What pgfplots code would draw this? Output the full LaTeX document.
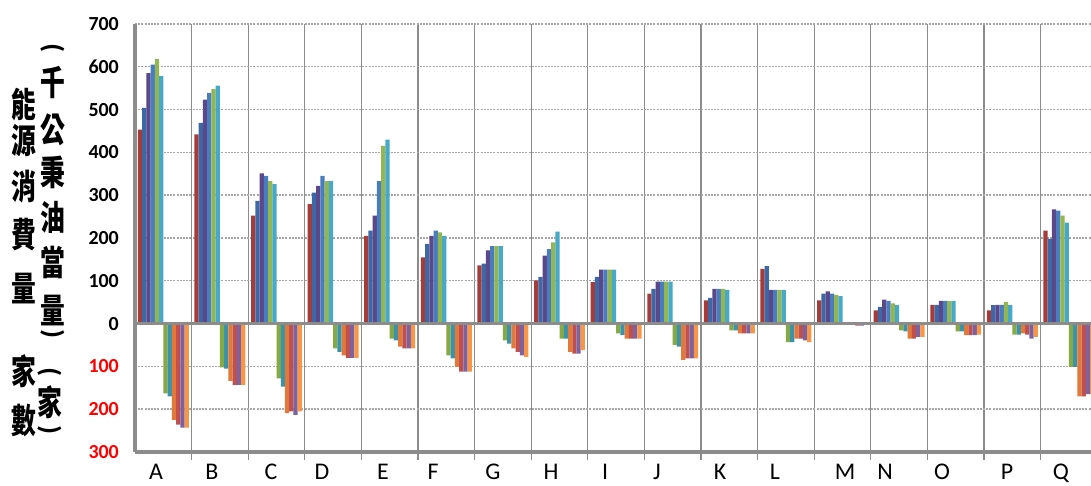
\documentclass[border=0pt]{standalone}
\usepackage{pgfplots}
\pgfplotsset{compat=1.18}
\usepackage{pgfplotstable}
\usepackage{graphicx}
\usepackage{fontspec}
\setmainfont{Carlito}
\newfontfamily\cjk{Noto Sans CJK TC}

% positive bars: energy consumption; negative bars: number of firms
\definecolor{p1}{HTML}{A63C3A}
\definecolor{p2}{HTML}{3D68A6}
\definecolor{p3}{HTML}{5B4889}
\definecolor{p4}{HTML}{4A7DC0}
\definecolor{p5}{HTML}{93B653}
\definecolor{p6}{HTML}{47A9C5}
\definecolor{n1}{HTML}{86A845}
\definecolor{n2}{HTML}{3A93A9}
\definecolor{n3}{HTML}{E0793A}
\definecolor{n4}{HTML}{C0504D}
\definecolor{n5}{HTML}{7E62A0}
\definecolor{n6}{HTML}{F79646}
\definecolor{lgray}{HTML}{8C8C8C}

\pgfplotstableread{
x   p1  p2  p3  p4  p5  p6    n1    n2    n3    n4    n5    n6
0   453 504 585 605 618 578  -163  -170  -225  -236  -243  -243
1   442 469 523 539 548 556  -102  -105  -134  -143  -143  -143
2   252 287 351 345 333 326  -128  -147  -209  -205  -213  -205
3   279 306 322 345 333 333   -58   -66   -74   -80   -80   -80
4   205 217 252 333 415 430   -35   -39   -54   -58   -58   -58
5   155 186 205 217 213 205   -74   -81  -101  -112  -112  -112
6   136 140 171 181 181 181   -39   -47   -58   -66   -74   -78
7   101 109 159 174 190 215   -35   -35   -66   -70   -70   -62
8    97 109 126 126 126 126   -23   -27   -35   -35   -35   -35
9    70  81  98  98  98  98   -50   -54   -85   -81   -81   -81
10   54  60  81  81  81  79   -16   -16   -23   -23   -23   -23
11  128 134  79  79  79  79   -43   -43   -35   -35   -39   -43
12   54  70  75  70  67  64     0     0    -3    -5    -5    -3
13   31  39  56  53  47  44   -16   -18   -35   -35   -31   -31
14   44  44  53  53  53  53   -18   -18   -27   -27   -27   -26
15   31  43  44  44  50  43   -26   -26   -23   -26   -35   -31
16  217 198 267 264 252 236  -101  -101  -170  -170  -165  -165
}\data

% heavy vertical title glyph, stretched upright
\newcommand\vg[1]{\scalebox{1.08}[1.5]{\bfseries #1}}

\begin{document}
\begin{tikzpicture}
\begin{axis}[
  at={(0,0)}, anchor=south west,
  scale only axis, width=956bp, height=428bp,
  xmin=-0.5, xmax=16.39, ymin=-300, ymax=700,
  ybar, bar width=0.075,
  axis x line*=bottom, axis y line*=left,
  axis line style={-, draw=lgray, line width=3.5bp},
  tick pos=left, tick align=outside,
  major tick length=0bp, minor tick length=8bp,
  minor tick style={draw=lgray, line width=1.2bp},
  ytick={-300,-200,...,700},
  yticklabels={\textcolor{red}{300},\textcolor{red}{200},\textcolor{red}{100},0,100,200,300,400,500,600,700},
  yticklabel style={font=\fontsize{20}{20}\selectfont\bfseries, anchor=east, inner sep=0pt, xshift=-16bp},
  xtick={-0.129,0.860,1.903,2.804,3.882,4.765,5.825,6.850,7.804,8.723,9.836,10.807,12.044,12.751,13.758,14.906,15.860},
  xticklabels={A,B,C,D,E,F,G,H,I,J,K,L,M,N,O,P,Q},
  xticklabel style={font=\fontsize{24}{24}\selectfont, anchor=base, inner sep=0pt, yshift=-28bp},
  minor xtick={0.5,1.5,...,15.5},
  xminorgrids, ymajorgrids,
  minor grid style={solid, draw=lgray, line width=1.2bp},
  major grid style={dash pattern=on 2bp off 1.2bp, draw=gray!70, line width=1.4bp},
]
\addplot [fill=p1, draw=none, bar shift=-0.4125] table [x=x, y=p1] {\data};
\addplot [fill=p2, draw=none, bar shift=-0.3375] table [x=x, y=p2] {\data};
\addplot [fill=p3, draw=none, bar shift=-0.2625] table [x=x, y=p3] {\data};
\addplot [fill=p4, draw=none, bar shift=-0.1875] table [x=x, y=p4] {\data};
\addplot [fill=p5, draw=none, bar shift=-0.1125] table [x=x, y=p5] {\data};
\addplot [fill=p6, draw=none, bar shift=-0.0375] table [x=x, y=p6] {\data};
\addplot [fill=n1, draw=none, bar shift=0.0375] table [x=x, y=n1] {\data};
\addplot [fill=n2, draw=none, bar shift=0.1125] table [x=x, y=n2] {\data};
\addplot [fill=n3, draw=none, bar shift=0.1875] table [x=x, y=n3] {\data};
\addplot [fill=n4, draw=none, bar shift=0.2625] table [x=x, y=n4] {\data};
\addplot [fill=n5, draw=none, bar shift=0.3375] table [x=x, y=n5] {\data};
\addplot [fill=n6, draw=none, bar shift=0.4125] table [x=x, y=n6] {\data};
% zero line
\draw [lgray, line width=3bp] (axis cs:-0.5,0) -- (axis cs:16.39,0);
\end{axis}

% vertical axis titles
\begin{scope}[every node/.style={inner sep=0pt, font=\fontsize{23}{23}\selectfont\cjk}]
\node at (-111bp,347bp) {\vg{能}};
\node at (-111bp,311bp) {\vg{源}};
\node at (-111bp,265bp) {\vg{消}};
\node at (-111bp,217bp) {\vg{費}};
\node at (-111bp,163bp) {\vg{量}};
\node[rotate=-90] at (-82bp,404bp) {\bfseries (};
\node at (-82bp,370bp) {\vg{千}};
\node at (-82bp,322bp) {\vg{公}};
\node at (-82bp,280bp) {\vg{秉}};
\node at (-82bp,235bp) {\vg{油}};
\node at (-82bp,190bp) {\vg{當}};
\node at (-82bp,141bp) {\vg{量}};
\node[rotate=-90] at (-82bp,118bp) {\bfseries )};
\node at (-111bp,81bp) {\vg{家}};
\node at (-111bp,31bp) {\vg{數}};
\node[rotate=-90] at (-85bp,80bp) {\bfseries (};
\node at (-85bp,50bp) {\vg{家}};
\node[rotate=-90] at (-85bp,22bp) {\bfseries )};
\end{scope}

\pgfresetboundingbox
\path (-135bp,-34bp) rectangle (956bp,452bp);
\end{tikzpicture}
\end{document}
